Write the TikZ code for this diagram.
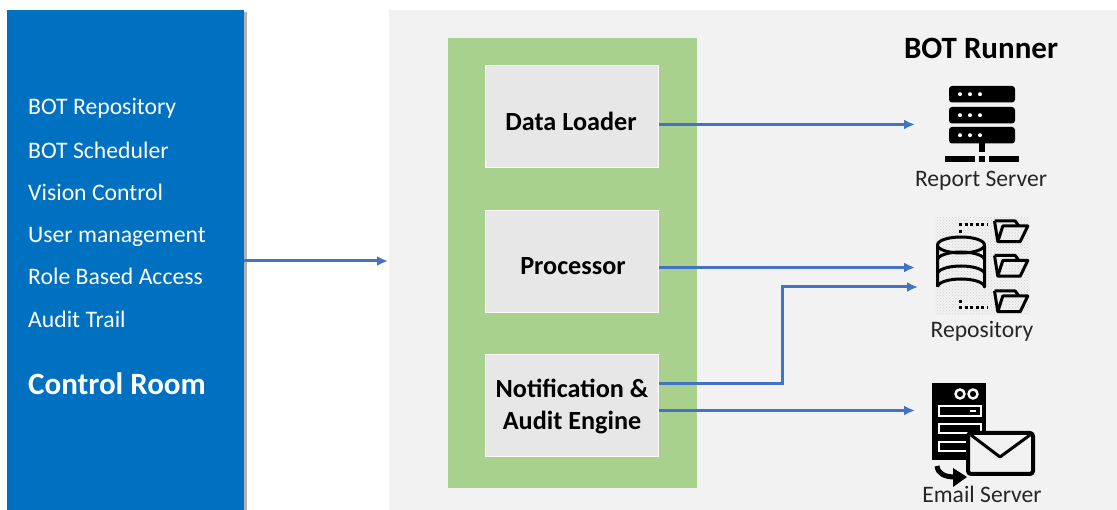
\documentclass[tikz,border=0pt]{standalone}
\usepackage{fontspec}
\setmainfont{Carlito}
\usetikzlibrary{arrows.meta,patterns}
\definecolor{ctrlblue}{HTML}{0070C0}
\definecolor{panelgray}{HTML}{F2F2F2}
\definecolor{boxgray}{HTML}{E7E7E7}
\definecolor{greenbg}{HTML}{A9D18E}
\definecolor{linkblue}{HTML}{4472C4}
\tikzset{
  x=1pt,y=-1pt,
  menu/.style={anchor=base west,text=white,font=\fontsize{23.7}{26}\selectfont,inner sep=0pt},
  title/.style={anchor=base,font=\fontsize{31}{34}\selectfont\bfseries,inner sep=0pt},
  enginebox/.style={draw=white,line width=0.8pt,fill=boxgray,minimum width=173.5pt,minimum height=102pt,inner sep=0pt},
  enginetext/.style={anchor=base,inner sep=0pt,font=\fontsize{26.2}{30}\selectfont\bfseries},
  caption/.style={anchor=base,inner sep=0pt,text=black!85,font=\fontsize{23.6}{26}\selectfont},
  link/.style={draw=linkblue,line width=3pt,-{Latex[length=11pt,width=10pt]}},
  iconline/.style={draw=black,line width=3pt,line join=round},
  folder/.pic={
    \draw[iconline] (0,0)--(3.3,20.7)--(25.7,20.7)--(33.3,5)--(8.3,5)--(3.3,20.7);
    \draw[iconline] (0,0)--(20.7,0)--(24,4.5);
  }
}
\begin{document}
\begin{tikzpicture}
\useasboundingbox (0,0) rectangle (1117,510);
\fill[white] (0,0) rectangle (1117,510);
% panels
\fill[panelgray] (389,10) rectangle (1117,510);
\fill[black!30] (244,12) rectangle (247,510);
\node[fill=ctrlblue,minimum width=237pt,minimum height=500pt,inner sep=0pt,anchor=north west] (control) at (7,10) {};
\node[fill=greenbg,minimum width=249pt,minimum height=450pt,inner sep=0pt,anchor=north west] (green) at (448,38) {};
% menu
\node[menu] (m1) at (28,115) {BOT Repository};
\node[menu] (m2) at (28,158.5) {BOT Scheduler};
\node[menu] (m3) at (28,200.5) {Vision Control};
\node[menu] (m4) at (28,243) {User management};
\node[menu] (m5) at (28,285) {Role Based Access};
\node[menu] (m6) at (28,327.5) {Audit Trail};
\node[anchor=base west,text=white,inner sep=0pt,font=\fontsize{31}{34}\selectfont\bfseries] (m7) at (28,394.5) {Control Room};
\node[title] (runner) at (981,58.5) {BOT Runner};
% engine boxes
\node[enginebox] (loader) at (572,116) {};
\node[enginetext] (loadert) at (571,131) {Data Loader};
\node[enginebox] (processor) at (572,261) {};
\node[enginetext] (processort) at (573,275) {Processor};
\node[enginebox] (notify) at (572,405) {};
\node[enginetext] (notifyt) at (572,398) {Notification \&};
\node[enginetext] (notifyb) at (572,430) {Audit Engine};
% captions
\node[caption] (creport) at (981,187) {Report Server};
\node[caption] (crepo) at (982,337.5) {Repository};
\node[caption] (cemail) at (982,503) {Email Server};
% arrow anchors
\coordinate (panelin) at (388,261);
\coordinate (reportin) at (915,124.5);
\coordinate (repoinA) at (915,267.5);
\coordinate (repoinB) at (918,287);
\coordinate (emailin) at (915,410.5);
% connectors
\draw[link] (control.east |- panelin) -- (panelin);
\draw[link] (loader.east |- reportin) -- (reportin);
\draw[link] (processor.east |- repoinA) -- (repoinA);
\draw[link] (notify.east |- 0,383.5) -- (782.5,383.5) -- (782.5,287) -- (repoinB);
\draw[link] (notify.east |- emailin) -- (emailin);
% report server icon
\foreach \y in {86,107,127}{
  \fill[black,rounded corners=3pt] (949,\y) rectangle (1015,\y+16.5);
  \foreach \x in {960,970,980} \fill[white] (\x,\y+8.2) circle (2);
}
\fill (979,143) rectangle (985,152);
\fill (945,156) rectangle (975,162);
\fill (979,156) rectangle (985,162);
\fill (989,156) rectangle (1019,162);
% repository icon
\fill[pattern=crosshatch dots,pattern color=black!18] (935,218) rectangle (1030,315);
\draw[iconline] (937.5,245) arc[start angle=180,end angle=360,x radius=23.5,y radius=8] arc[start angle=0,end angle=180,x radius=23.5,y radius=8] -- (937.5,287);
\draw[iconline] (937.5,287) arc[start angle=180,end angle=360,x radius=23.5,y radius=8] -- (984.5,245);
\draw[iconline] (937.5,260) arc[start angle=180,end angle=360,x radius=23.5,y radius=8];
\draw[iconline] (937.5,274) arc[start angle=180,end angle=360,x radius=23.5,y radius=8];
\draw[line width=3pt,dash pattern=on 3pt off 2.6pt] (959,225) -- (988,225);
\fill (959,230) rectangle (962,233);
\draw[line width=3pt,dash pattern=on 3pt off 2.6pt] (959,308) -- (988,308);
\fill (959,300) rectangle (962,303);
\pic at (994.5,221) {folder};
\pic at (994.5,255.5) {folder};
\pic at (994.5,291) {folder};
% email server icon
\fill (931.5,383) rectangle (986,460);
\foreach \x in {960,973}{\draw[white,line width=2.4pt] (\x,394) circle (4.5);}
\draw[white,line width=2.4pt] (939,406) rectangle (981,416);
\fill[white] (970,410) rectangle (976,412);
\draw[white,line width=2.4pt] (939,424) rectangle (981,433);
\draw[white,line width=2.4pt] (939,442) rectangle (981,451);
\draw[iconline,line width=4pt,fill=panelgray,rounded corners=3pt] (968,433) rectangle (1033,474);
\draw[iconline,line width=3pt] (971,435) -- (1000,457) -- (1030,435);
\draw[line width=5pt] (937,466) .. controls (938,474) and (945,477) .. (955,477);
\fill (953,468) -- (967,477) -- (953,487) -- cycle;
\end{tikzpicture}
\end{document}
